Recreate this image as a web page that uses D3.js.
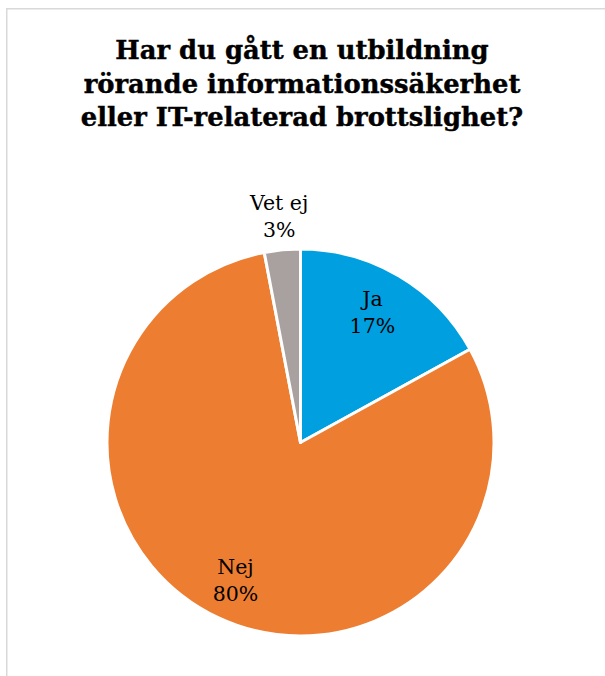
<!DOCTYPE html>
<html><head><meta charset="utf-8">
<script src="https://cdn.jsdelivr.net/npm/d3@7"></script>
<style>body{margin:0;background:#fff}svg{display:block}</style>
</head><body>
<script>
const categories = ["Ja", "Nej", "Vet ej"];
const values = [17, 80, 3];
const colors = ["#009FDF", "#ED7D31", "#A9A19F"];
const titleLines = ["Har du gått en utbildning", "rörande informationssäkerhet", "eller IT-relaterad brottslighet?"];

const W = 605, H = 676;
const svg = d3.select("body").append("svg").attr("width", W).attr("height", H);
svg.append("rect").attr("x", 6.75).attr("y", 8.75).attr("width", 700).attr("height", 800)
  .attr("fill", "#fff").attr("stroke", "#d9d9d9").attr("stroke-width", 1.5);

const serif = "'DejaVu Serif', Georgia, serif";
const title = svg.append("g");
const baselines = [59, 93, 126];
titleLines.forEach((t, i) => {
  title.append("text").attr("x", 302).attr("y", baselines[i]).attr("text-anchor", "middle")
    .attr("font-family", serif).attr("font-weight", "bold").attr("font-size", 26)
    .attr("fill", "#000").attr("stroke", "#000").attr("stroke-width", 0.4).text(t);
});
const w2 = title.selectAll("text").nodes()[1].getComputedTextLength();
const fs = 26 * 437 / w2;
title.selectAll("text").attr("font-size", fs);

const cx = 300.5, cy = 442.5, r = 193.5;
const pie = d3.pie().sort(null).value(d => d)(values);
const arc = d3.arc().innerRadius(0).outerRadius(r);
const g = svg.append("g").attr("transform", `translate(${cx},${cy})`);
g.selectAll("path").data(pie).join("path")
  .attr("d", arc).attr("fill", (d, i) => colors[i])
  .attr("stroke", "#fff").attr("stroke-width", 3).attr("stroke-linejoin", "round");

const labelR = [0.73, 0.79, 1.17];
const labelDy = [-11, -3, -3];
pie.forEach((d, i) => {
  const la = d3.arc().innerRadius(r * labelR[i]).outerRadius(r * labelR[i]);
  const [x, y] = la.centroid(d);
  const t = g.append("text").attr("text-anchor", "middle")
    .attr("font-family", serif).attr("font-size", 20.5).attr("fill", "#000")
    .attr("transform", `translate(${x},${y + labelDy[i]})`);
  t.append("tspan").attr("x", 0).attr("y", -4).text(categories[i]);
  t.append("tspan").attr("x", 0).attr("y", 23).text(d3.format(".0%")(values[i] / d3.sum(values)));
});
</script>
</body></html>
